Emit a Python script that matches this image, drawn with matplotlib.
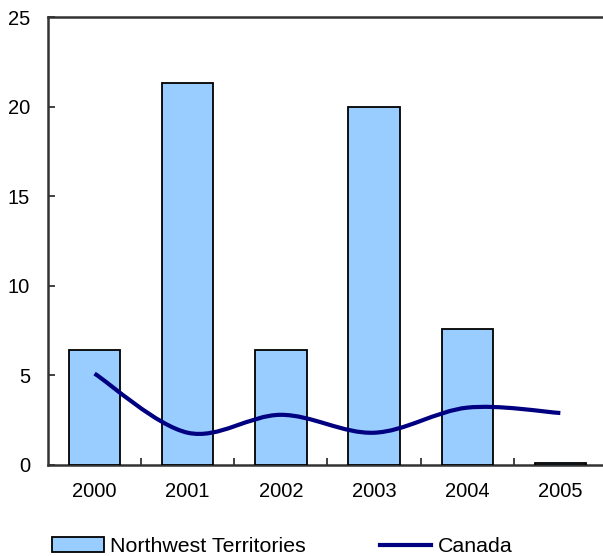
import numpy as np
import matplotlib.pyplot as plt
from matplotlib.path import Path
from matplotlib.patches import PathPatch, Patch
from matplotlib.lines import Line2D

plt.rcParams['font.family'] = ['Liberation Sans', 'DejaVu Sans']
plt.rcParams['font.size'] = 14.5

years = ['2000', '2001', '2002', '2003', '2004', '2005']
nwt = [6.4, 21.3, 6.4, 20.0, 7.6, 0.1]
canada = [5.1, 1.8, 2.8, 1.8, 3.2, 2.9]

bar_color = '#99CCFF'
line_color = '#000080'


def smooth_path(xs, ys):
    # bezier segments through each point, like a spreadsheet "smoothed line"
    pts = np.column_stack([xs, ys])
    n = len(pts)
    verts = [pts[0]]
    codes = [Path.MOVETO]
    for i in range(n - 1):
        p0 = pts[max(i - 1, 0)]
        p1 = pts[i]
        p2 = pts[i + 1]
        p3 = pts[min(i + 2, n - 1)]
        c1 = p1 + (p2 - p0) / 6.0
        c2 = p2 - (p3 - p1) / 6.0
        verts += [c1, c2, p2]
        codes += [Path.CURVE4] * 3
    return Path(verts, codes)


fig = plt.figure(figsize=(6.03, 5.56), dpi=100)
ax = fig.add_axes([0.0796, 0.1637, 0.93, 0.8057])

x = np.arange(len(years))
ax.bar(x, nwt, width=0.55, color=bar_color, edgecolor='black', linewidth=1.3, zorder=2.6)
ax.add_patch(PathPatch(smooth_path(x, canada), facecolor='none',
                       edgecolor=line_color, linewidth=3, zorder=3,
                       capstyle='butt'))

ax.set_xlim(-0.5, 5.52)
ax.set_ylim(0, 25)
ax.set_yticks(range(0, 26, 5))
ax.set_xticks(x)
ax.set_xticklabels(years)
ax.set_xticks(np.arange(0.5, 5.5, 1), minor=True)
ax.tick_params(axis='x', which='major', length=0, pad=12)
ax.tick_params(axis='x', which='minor', direction='in', length=5, width=1.3, color='#333333')
ax.tick_params(axis='y', direction='in', length=5, width=1.3, color='#333333', pad=13)
for s in ['left', 'bottom', 'top']:
    ax.spines[s].set_linewidth(1.8)
    ax.spines[s].set_color('#333333')
ax.spines['right'].set_visible(False)

handles = [Patch(facecolor=bar_color, edgecolor='black', linewidth=1.3),
           Line2D([], [], color=line_color, linewidth=3)]
fig.legend(handles, ['Northwest Territories', 'Canada'], loc='lower left',
           bbox_to_anchor=(0.055, -0.035), ncol=2, frameon=False,
           prop={'size': 15.4}, handlelength=2.4, handleheight=0.68,
           handletextpad=0.3, columnspacing=3.45)

fig.savefig('out.png', dpi=100)
